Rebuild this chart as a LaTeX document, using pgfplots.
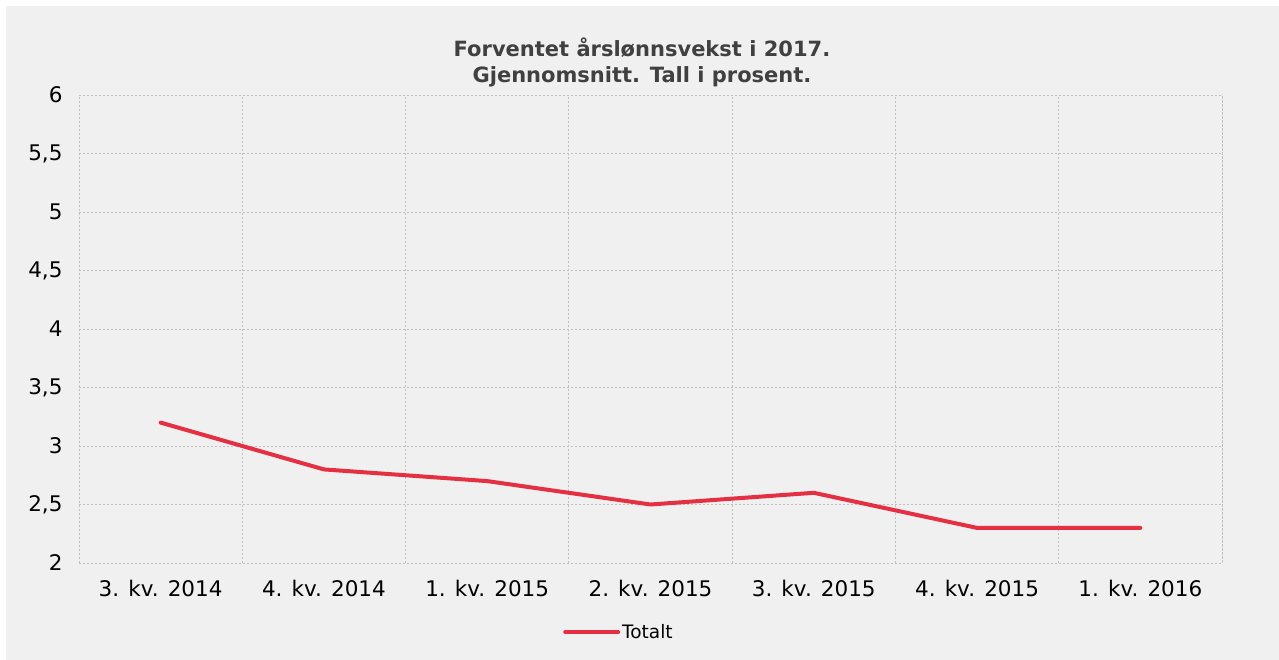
\documentclass[border=0pt]{standalone}
\usepackage{pgfplots}
\pgfplotsset{compat=1.18}
\usepackage{fontspec}
\setmainfont{DejaVu Sans}
\definecolor{bg}{HTML}{F0F0F0}
\definecolor{linered}{RGB}{228,48,66}
\definecolor{gridgray}{HTML}{C0C0C0}
\definecolor{titlegray}{HTML}{404040}
\begin{document}
\begin{tikzpicture}[x=1pt,y=1pt]
\fill[white] (0,0) rectangle (1279,-660);
\fill[bg] (6,-6) rectangle (1279,-660);
\begin{axis}[
  at={(79pt,-563pt)}, anchor=south west,
  scale only axis, width=1143pt, height=468pt,
  xmin=-0.5, xmax=6.5, ymin=2, ymax=6,
  xtick={0,...,6},
  xticklabels={3. kv. 2014,4. kv. 2014,1. kv. 2015,2. kv. 2015,3. kv. 2015,4. kv. 2015,1. kv. 2016},
  minor xtick={-0.5,0.5,...,6.5},
  ytick={2,2.5,...,6},
  xminorgrids=true, ymajorgrids=true, xmajorgrids=false,
  major tick length=0pt, minor tick length=0pt,
  grid style={draw=gridgray, line width=0.8pt, dash pattern=on 2pt off 2pt},
  minor grid style={draw=gridgray, line width=0.8pt, dash pattern=on 2pt off 2pt},
  axis line style={draw=gridgray, line width=0.8pt, dash pattern=on 2pt off 2pt},
  /pgf/number format/use comma,
  /pgf/number format/assume math mode=true,
  ticklabel style={font=\fontsize{21.5}{26}\selectfont, text=black},
  xticklabel style={yshift=-14pt},
  yticklabel style={xshift=-13pt},
  legend style={at={(0.4724,-0.1474)}, anchor=center, draw=none, fill=none,
    font=\fontsize{18.5}{22}\selectfont},
  legend image code/.code={\draw[#1, line width=4pt] (0pt,0pt) -- (53pt,0pt);},
]
\addplot[linered, line width=4pt, line cap=round, line join=round] coordinates {
  (0,3.2) (1,2.8) (2,2.7) (3,2.5) (4,2.6) (5,2.3) (6,2.3)
};
\addlegendentry{Totalt}
\end{axis}
\node[align=center, font=\fontsize{21}{26.7}\selectfont\bfseries, text=titlegray, anchor=north] at (642,-34) {Forventet årslønnsvekst i 2017.\\Gjennomsnitt. Tall i prosent.};
\end{tikzpicture}
\end{document}
